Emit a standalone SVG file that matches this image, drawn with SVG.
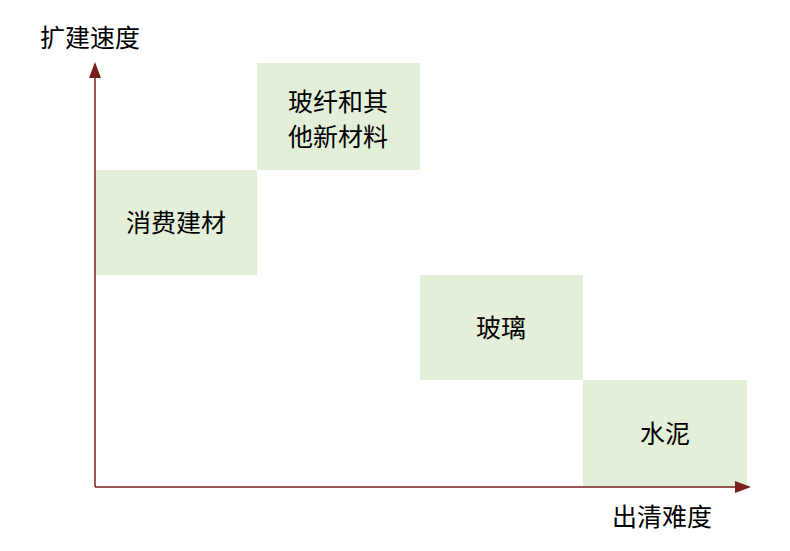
<svg xmlns="http://www.w3.org/2000/svg" width="790" height="551" viewBox="0 0 790 551">
<style>
.box{fill:#E3EFD9}
text{font-family:"Noto Sans CJK SC","Noto Sans",sans-serif;font-size:25px;fill:#000;text-anchor:middle}
.ax{stroke:#7A1E1E;stroke-width:1.5;fill:none}
</style>
<defs><marker id="a" markerWidth="10" markerHeight="10" refX="8" refY="5" orient="auto" markerUnits="userSpaceOnUse"><path d="M0,0L10,5L0,10Z" fill="#7A1E1E"/></marker>
<marker id="b" markerWidth="16" markerHeight="12" refX="14" refY="6" orient="auto" markerUnits="userSpaceOnUse"><path d="M0,0L16,6L0,12Z" fill="#7A1E1E"/></marker></defs>
<rect width="790" height="551" fill="#fff"/>
<g id="n1"><rect class="box" x="95" y="170" width="162" height="105"/><text x="176" y="232">消费建材</text></g>
<g id="n2"><rect class="box" x="257" y="63" width="163" height="107"/><text x="338" y="111">玻纤和其</text><text x="338" y="146">他新材料</text></g>
<g id="n3"><rect class="box" x="420" y="275" width="163" height="105"/><text x="501" y="337">玻璃</text></g>
<g id="n4"><rect class="box" x="583" y="380" width="164" height="107"/><text x="665" y="443">水泥</text></g>
<g id="connectors">
<line class="ax" x1="95" y1="487" x2="95" y2="64" marker-end="url(#b)"/>
<line class="ax" x1="95" y1="487" x2="749" y2="487" marker-end="url(#b)"/>
</g>
<text x="90" y="47">扩建速度</text>
<text x="662" y="526">出清难度</text>
</svg>
